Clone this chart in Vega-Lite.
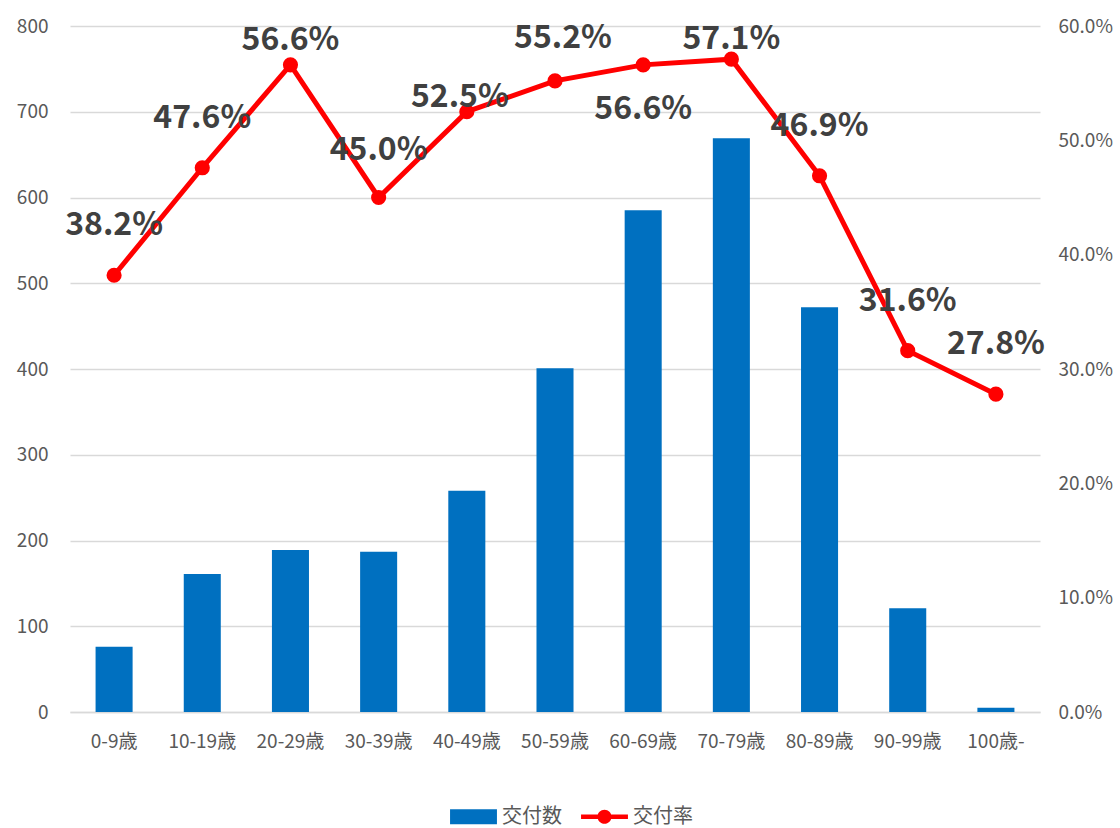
{
  "$schema": "https://vega.github.io/schema/vega-lite/v6.json",
  "autosize": {"type": "none"},
  "width": 970,
  "height": 686,
  "padding": {"left": 70, "top": 26, "right": 80, "bottom": 116},
  "background": "white",
  "config": {
    "view": {"stroke": null},
    "font": "Noto Sans CJK JP",
    "axis": {"labelFont": "Noto Sans CJK JP", "labelColor": "#595959", "labelFontSize": 19}
  },
  "data": {
    "values": [
      {"age": "0-9歳", "count": 76, "rate": 0.382},
      {"age": "10-19歳", "count": 161, "rate": 0.476},
      {"age": "20-29歳", "count": 189, "rate": 0.566},
      {"age": "30-39歳", "count": 187, "rate": 0.450},
      {"age": "40-49歳", "count": 258, "rate": 0.525},
      {"age": "50-59歳", "count": 401, "rate": 0.552},
      {"age": "60-69歳", "count": 585, "rate": 0.566},
      {"age": "70-79歳", "count": 669, "rate": 0.571},
      {"age": "80-89歳", "count": 472, "rate": 0.469},
      {"age": "90-99歳", "count": 121, "rate": 0.316},
      {"age": "100歳-", "count": 5, "rate": 0.278}
    ]
  },
  "encoding": {
    "x": {
      "field": "age", "type": "nominal", "sort": null,
      "scale": {"paddingInner": 0.58, "paddingOuter": 0.29},
      "axis": {"title": null, "labelAngle": 0, "domainColor": "#d9d9d9", "domainWidth": 1.5, "ticks": false, "labelPadding": 20}
    }
  },
  "layer": [
    {
      "mark": {"type": "bar", "color": "#0070C0"},
      "encoding": {
        "y": {
          "field": "count", "type": "quantitative",
          "scale": {"domain": [0, 800], "nice": false},
          "axis": {"title": null, "values": [0,100,200,300,400,500,600,700,800], "domain": false, "ticks": false, "labelPadding": 22, "gridColor": "#d9d9d9", "gridWidth": 1.5}
        },
        "color": {
          "datum": "交付数", "type": "nominal",
          "scale": {"domain": ["交付数", "交付率"], "range": ["#0070C0", "#FF0000"]},
          "legend": {
            "title": null, "orient": "none", "legendX": 380, "legendY": 767, "direction": "horizontal",
            "labelFontSize": 20, "labelColor": "#595959", "labelFont": "Noto Sans CJK JP",
            "symbolSize": 2200, "columnPadding": 19, "labelOffset": 5,
            "encode": {
              "symbols": {
                "update": {
                  "shape": {"signal": "datum.label === '交付数' ? 'M-1,-0.32H1V0.32H-1Z' : 'M-1,-0.1H1V0.1H-1Z M-0.3,0 A0.3,0.3 0 1,1 0.3,0 A0.3,0.3 0 1,1 -0.3,0Z'"},
                  "strokeWidth": {"value": 0}
                }
              }
            }
          }
        }
      }
    },
    {
      "layer": [
        {
          "mark": {"type": "line", "color": "#FF0000", "strokeWidth": 5},
          "encoding": {"color": {"datum": "交付率", "type": "nominal"}}
        },
        {
          "mark": {"type": "point", "filled": true, "color": "#FF0000", "size": 230, "opacity": 1},
          "encoding": {"color": {"datum": "交付率", "type": "nominal"}}
        },
        {
          "transform": [{"filter": "indexof(['0-9歳','10-19歳','80-89歳','90-99歳','100歳-'], datum.age) >= 0"}],
          "mark": {"type": "text", "dy": -50, "fontSize": 32, "fontWeight": "bold", "color": "#404040", "baseline": "middle"},
          "encoding": {"text": {"field": "rate", "format": ".1%"}}
        },
        {
          "transform": [{"filter": "datum.age === '30-39歳'"}],
          "mark": {"type": "text", "dy": -48, "fontSize": 32, "fontWeight": "bold", "color": "#404040", "baseline": "middle"},
          "encoding": {"text": {"field": "rate", "format": ".1%"}}
        },
        {
          "transform": [{"filter": "datum.age === '20-29歳'"}],
          "mark": {"type": "text", "dy": -25, "fontSize": 32, "fontWeight": "bold", "color": "#404040", "baseline": "middle"},
          "encoding": {"text": {"field": "rate", "format": ".1%"}}
        },
        {
          "transform": [{"filter": "datum.age === '40-49歳'"}],
          "mark": {"type": "text", "dy": -15, "dx": -7, "fontSize": 32, "fontWeight": "bold", "color": "#404040", "baseline": "middle"},
          "encoding": {"text": {"field": "rate", "format": ".1%"}}
        },
        {
          "transform": [{"filter": "datum.age === '50-59歳'"}],
          "mark": {"type": "text", "dy": -43, "dx": 8, "fontSize": 32, "fontWeight": "bold", "color": "#404040", "baseline": "middle"},
          "encoding": {"text": {"field": "rate", "format": ".1%"}}
        },
        {
          "transform": [{"filter": "datum.age === '60-69歳'"}],
          "mark": {"type": "text", "dy": 44, "fontSize": 32, "fontWeight": "bold", "color": "#404040", "baseline": "middle"},
          "encoding": {"text": {"field": "rate", "format": ".1%"}}
        },
        {
          "transform": [{"filter": "datum.age === '70-79歳'"}],
          "mark": {"type": "text", "dy": -20, "fontSize": 32, "fontWeight": "bold", "color": "#404040", "baseline": "middle"},
          "encoding": {"text": {"field": "rate", "format": ".1%"}}
        }
      ],
      "encoding": {
        "y": {
          "field": "rate", "type": "quantitative",
          "scale": {"domain": [0, 0.6], "nice": false},
          "axis": {"title": null, "orient": "right", "format": ".1%", "values": [0,0.1,0.2,0.3,0.4,0.5,0.6], "domain": false, "ticks": false, "grid": false, "labelPadding": 18}
        }
      }
    }
  ],
  "resolve": {"scale": {"y": "independent"}}
}
